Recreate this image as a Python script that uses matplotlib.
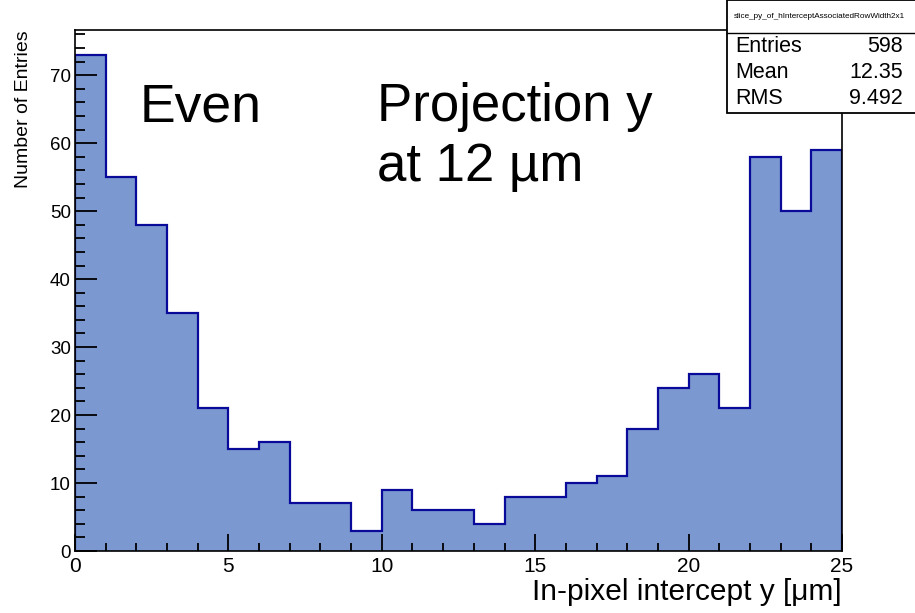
import numpy as np
import matplotlib
matplotlib.use("Agg")
from matplotlib import pyplot as plt
from matplotlib.patches import Rectangle
from matplotlib.ticker import MultipleLocator

plt.rcParams['font.family'] = ['Liberation Sans', 'DejaVu Sans']

# histogram contents, 1 um bins from 0 to 25
bin_edges = np.arange(0, 26, 1)
counts = [73, 55, 48, 35, 21, 15, 16, 7, 7, 3, 9, 6, 6, 4, 8, 8, 10, 11,
          18, 24, 26, 21, 58, 50, 59]
hist_name = "slice_py_of_hInterceptAssociatedRowWidth2x1"
stat_labels = ["Entries", "Mean", "RMS"]
stat_values = ["598", "12.35", "9.492"]

W, H = 915, 613
fig = plt.figure(figsize=(W / 100, H / 100), dpi=100)

def fx(px):
    return px / W

def fy(py):
    return 1 - py / H

ax = fig.add_axes([fx(75), fy(551), fx(842) - fx(75), fy(30) - fy(551)])
ax.stairs(counts, bin_edges, fill=True, color="#7b99d0", lw=0)
ax.stairs(counts, bin_edges, color="#0a0a9a", lw=1.6)

ax.set_xlim(0, 25)
ax.set_ylim(0, max(counts) * 1.05)

ax.xaxis.set_major_locator(MultipleLocator(5))
ax.xaxis.set_minor_locator(MultipleLocator(1))
ax.yaxis.set_major_locator(MultipleLocator(10))
ax.yaxis.set_minor_locator(MultipleLocator(2))
ax.tick_params(axis='both', which='both', direction='in', top=False, right=False,
               width=1.3, color='black')
ax.tick_params(axis='y', which='major', length=16, labelsize=13.5, pad=3)
ax.tick_params(axis='y', which='minor', length=7.5)
ax.tick_params(axis='x', which='major', length=12, labelsize=15, pad=4)
ax.tick_params(axis='x', which='minor', length=6)
for s in ax.spines.values():
    s.set_linewidth(1.2)

ax.set_xlabel("In-pixel intercept y [\u03bcm]", fontsize=21.5, loc='right', labelpad=2)
ax.set_ylabel("Number of Entries", fontsize=14, loc='top', labelpad=13)

fig.text(fx(140), fy(121), "Even", fontsize=38.5, va='baseline')
fig.text(fx(377), fy(121), "Projection y", fontsize=38, va='baseline')
fig.text(fx(377), fy(181), "at 12 \u00b5m", fontsize=38, va='baseline')

# stats box
fig.patches.append(Rectangle((fx(727), fy(113)), fx(915) - fx(727) + 0.01, fy(0) - fy(113),
                             transform=fig.transFigure, facecolor='white',
                             edgecolor='black', lw=1.3, zorder=5))
fig.lines.append(plt.Line2D([fx(727), 1], [fy(33), fy(33)], transform=fig.transFigure,
                            color='black', lw=1, zorder=6))
fig.text(fx(734), fy(17), hist_name, fontsize=5.9, va='center', zorder=7)
for i, (lab, val) in enumerate(zip(stat_labels, stat_values)):
    yy = fy(47 + 26 * i)
    fig.text(fx(735), yy, lab, fontsize=15.5, va='center', zorder=7)
    fig.text(fx(903), yy, val, fontsize=15.5, va='center', ha='right', zorder=7)

fig.savefig("out.png", dpi=100)
